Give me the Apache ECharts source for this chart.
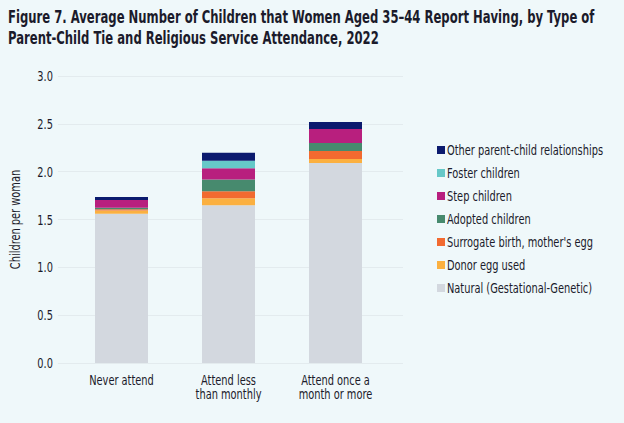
<!DOCTYPE html>
<html><head><meta charset="utf-8">
<script src="https://cdn.jsdelivr.net/npm/echarts@6/dist/echarts.min.js"></script>
<style>html,body{margin:0;padding:0;background:#eff8fa;}#c{width:624px;height:423px;}</style>
</head><body><div id="c"></div>
<script>
const categories = ['Never attend', 'Attend less\nthan monthly', 'Attend once a\nmonth or more'];
const natural   = [1.56, 1.65, 2.09];
const donorEgg  = [0.035, 0.073, 0.042];
const surrogate = [0.012, 0.073, 0.083];
const adopted   = [0.017, 0.123, 0.084];
const step      = [0.08, 0.118, 0.146];
const foster    = [0.0, 0.076, 0.0];
const other     = [0.032, 0.084, 0.073];
const seriesNames = ['Natural (Gestational-Genetic)', 'Donor egg used', "Surrogate birth, mother's egg", 'Adopted children', 'Step children', 'Foster children', 'Other parent-child relationships'];
const seriesData = [natural, donorEgg, surrogate, adopted, step, foster, other];
const colors = ['#d3d8df', '#fbb040', '#f26a30', '#478a6e', '#b81f7e', '#66c8c8', '#0b1a6e'];
const yTicks = [0, 0.5, 1.0, 1.5, 2.0, 2.5, 3.0];

const font = "'DejaVu Sans Condensed',sans-serif";
const chart = echarts.init(document.getElementById('c'), null, { renderer: 'svg' });

function squeeze() {
  document.querySelectorAll('#c svg text').forEach(t => {
    if (t.getAttribute('data-sq')) return;
    const len = t.getComputedTextLength();
    if (!len) return;
    const big = /17px/.test(t.getAttribute('style') || '') || /17px/.test(t.style.font || '');
    const k = big ? 0.76 : 0.78;
    t.setAttribute('textLength', (len * k).toFixed(2));
    t.setAttribute('lengthAdjust', 'spacingAndGlyphs');
    t.setAttribute('data-sq', '1');
  });
}
chart.on('finished', squeeze);

chart.setOption({
  backgroundColor: '#eff8fa',
  animation: false,
  title: {
    text: 'Figure 7. Average Number of Children that Women Aged 35–44 Report Having, by Type of\nParent-Child Tie and Religious Service Attendance, 2022',
    left: 8, top: 6, padding: 0,
    textStyle: { fontFamily: font, fontWeight: 'bold', fontSize: 17, lineHeight: 21, color: '#1b1b2b' }
  },
  legend: {
    orient: 'vertical', left: 437, top: 143, itemGap: 9, padding: 0,
    itemWidth: 8, itemHeight: 8, icon: 'rect',
    data: seriesNames.slice().reverse(),
    textStyle: { fontFamily: font, fontSize: 14, lineHeight: 14, color: '#1b1b2b', padding: [0,0,0,-3] }
  },
  grid: [
    { left: 53, right: 221, top: 76, bottom: 60 },
    { left: 68, right: 235, top: 76, bottom: 60 }
  ],
  xAxis: [
    { type: 'value', gridIndex: 0, show: false, min: 0, max: 1 },
    { type: 'category', gridIndex: 1, data: categories,
      axisLine: { show: false }, axisTick: { show: false },
      axisLabel: { interval: 0, fontFamily: font, fontSize: 14, color: '#1b1b2b', margin: 10, lineHeight: 14 } }
  ],
  yAxis: [
    { type: 'value', gridIndex: 0, min: 0, max: 3, interval: 0.5,
      name: 'Children per woman', nameLocation: 'middle', nameGap: 31,
      nameTextStyle: { fontFamily: font, fontSize: 14, color: '#1b1b2b' },
      axisLine: { show: false }, axisTick: { show: false },
      axisLabel: { fontFamily: font, fontSize: 14, color: '#1b1b2b', margin: 5,
        formatter: v => yTicks.includes(v) ? v.toFixed(1) : '' },
      splitLine: { lineStyle: { color: '#e3ebee', width: 1 } } },
    { type: 'value', gridIndex: 1, min: 0, max: 3, interval: 0.5, show: false, splitLine: { show: false } }
  ],
  series: seriesNames.map((n, i) => ({
    name: n, type: 'bar', stack: 'total', xAxisIndex: 1, yAxisIndex: 1,
    barWidth: 53, data: seriesData[i], itemStyle: { color: colors[i] }
  }))
});
setTimeout(squeeze, 50);
setTimeout(squeeze, 300);
</script></body></html>
